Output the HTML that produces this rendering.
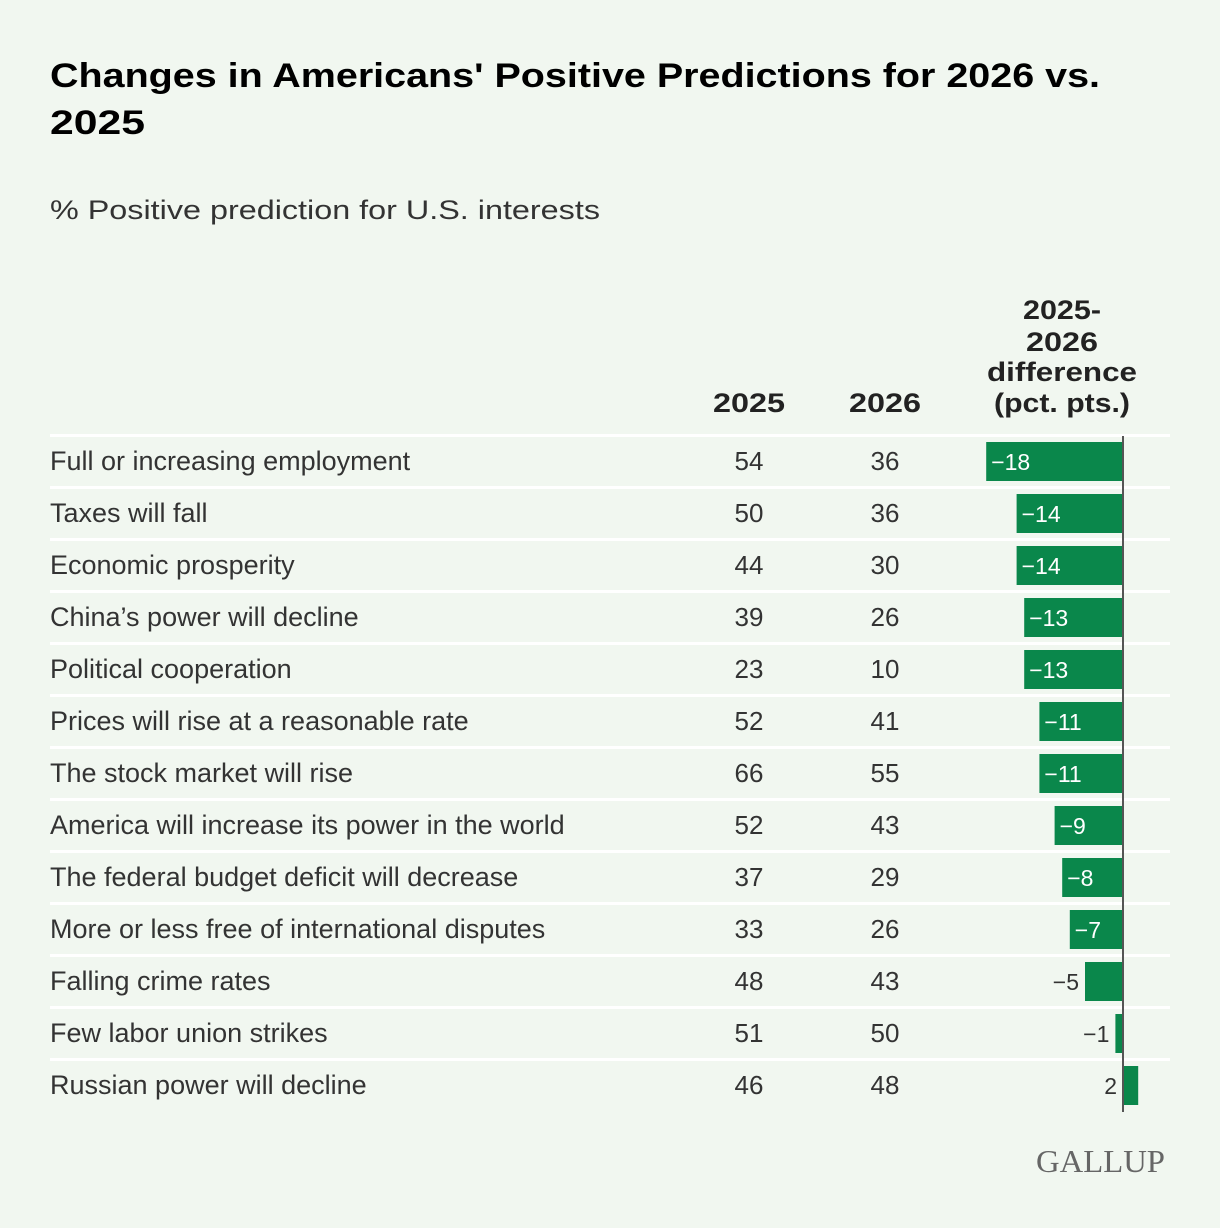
<!DOCTYPE html>
<html><head><meta charset="utf-8"><style>
body{margin:0;background:#f1f7f0;}
svg{display:block;font-family:"Liberation Sans",sans-serif;}
</style></head><body>
<svg id="chart" width="1220" height="1228" viewBox="0 0 1220 1228">
<rect width="1220" height="1228" fill="#f1f7f0"/>
<text x="50" y="87" font-size="34" font-weight="bold" fill="#000" textLength="1050" lengthAdjust="spacingAndGlyphs">Changes in Americans' Positive Predictions for 2026 vs.</text>
<text x="50" y="134" font-size="34" font-weight="bold" fill="#000" textLength="95" lengthAdjust="spacingAndGlyphs">2025</text>
<text x="50" y="219" font-size="27" fill="#333" textLength="550" lengthAdjust="spacingAndGlyphs">% Positive prediction for U.S. interests</text>
<text x="749" y="412" font-size="27" font-weight="bold" fill="#222" text-anchor="middle" textLength="72" lengthAdjust="spacingAndGlyphs">2025</text>
<text x="885" y="412" font-size="27" font-weight="bold" fill="#222" text-anchor="middle" textLength="72" lengthAdjust="spacingAndGlyphs">2026</text>
<g font-size="27" font-weight="bold" fill="#222" text-anchor="middle">
<text x="1062" y="319" textLength="78" lengthAdjust="spacingAndGlyphs">2025-</text><text x="1062" y="351" textLength="72" lengthAdjust="spacingAndGlyphs">2026</text><text x="1062" y="381" textLength="150" lengthAdjust="spacingAndGlyphs">difference</text><text x="1062" y="412" textLength="136" lengthAdjust="spacingAndGlyphs">(pct. pts.)</text>
</g>
<g id="rows"></g>
<text x="1165" y="1172" font-size="32" fill="#666" text-anchor="end" font-family="Liberation Serif, serif" textLength="129" lengthAdjust="spacingAndGlyphs">GALLUP</text>
</svg>
<script>
const categories=["Full or increasing employment","Taxes will fall","Economic prosperity","China’s power will decline","Political cooperation","Prices will rise at a reasonable rate","The stock market will rise","America will increase its power in the world","The federal budget deficit will decrease","More or less free of international disputes","Falling crime rates","Few labor union strikes","Russian power will decline"];
const values2025=[54,50,44,39,23,52,66,52,37,33,48,51,46];
const values2026=[36,36,30,26,10,41,55,43,29,26,43,50,48];
const diffs=[-18,-14,-14,-13,-13,-11,-11,-9,-8,-7,-5,-1,2];
const NS="http://www.w3.org/2000/svg";
const g=document.getElementById('rows');
const top0=436,rowH=52,zeroX=1123,scale=7.6;
const xs=v=>zeroX+v*scale;
function mk(tag,attrs,txt){const e=document.createElementNS(NS,tag);for(const k in attrs)e.setAttribute(k,attrs[k]);if(txt!==undefined)e.textContent=txt;g.appendChild(e);return e;}
categories.forEach((c,i)=>{
  const t=top0+i*rowH, cy=t+rowH/2+8;
  const sep=mk('rect',{x:50,y:t-2,width:1120,height:3,fill:'#ffffff'});
  
  
  const lab=mk('text',{x:50,y:cy,'font-size':27,fill:'#333'},c);
  
  
  const a=mk('text',{x:749,y:cy,'font-size':26,fill:'#333','text-anchor':'middle'},values2025[i]);
  
  
  const b=mk('text',{x:885,y:cy,'font-size':26,fill:'#333','text-anchor':'middle'},values2026[i]);
  
  
  const d=diffs[i];
  const x0=Math.min(xs(d),zeroX), w=Math.abs(xs(d)-zeroX);
  const bar=mk('rect',{x:x0,y:t+6,width:w,height:39,fill:'#0a874b'});
  
  
  const lbl=d<0?'\u2212'+Math.abs(d):String(d);
  let tl;
  if(d<=-7){tl=mk('text',{x:x0+5,y:cy,'font-size':23,fill:'#fff'},lbl);}
  else{tl=mk('text',{x:Math.min(x0,zeroX)-6,y:cy,'font-size':23,fill:'#333','text-anchor':'end'},lbl);}
  
  
});
const zl=mk('rect',{x:zeroX-1,y:top0,width:2,height:categories.length*rowH,fill:'#555'});


</script>
</body></html>
